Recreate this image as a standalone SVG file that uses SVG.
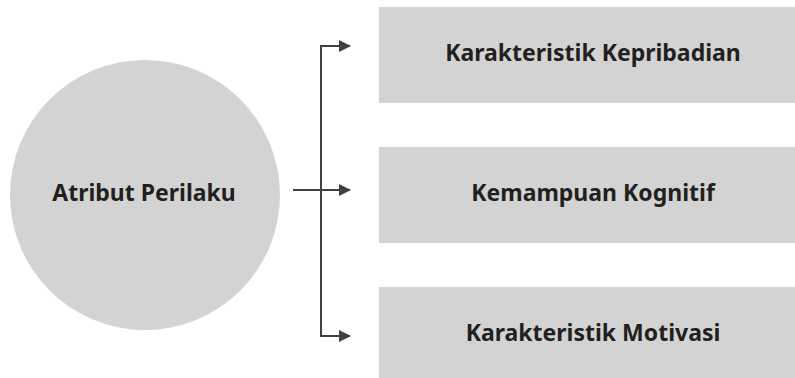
<svg xmlns="http://www.w3.org/2000/svg" width="795" height="378" viewBox="0 0 795 378">
  <style>
    .shape { fill: #d3d3d3; }
    .label { font-family: "Noto Sans", "Open Sans", sans-serif; font-weight: 700; font-size: 23px; fill: #231f20; text-anchor: middle; }
    .conn { stroke: #404040; stroke-width: 2; fill: none; }
  </style>
  <defs>
    <marker id="arrow" markerUnits="userSpaceOnUse" markerWidth="12" markerHeight="12" viewBox="0 0 12 12" refX="11" refY="6" orient="auto">
      <path d="M0,0 L12,6 L0,12 Z" fill="#404040"/>
    </marker>
  </defs>
  <rect width="795" height="378" fill="#ffffff"/>
  <g id="node-atribut">
    <circle class="shape" cx="145" cy="195" r="135"/>
    <text class="label" x="144" y="201">Atribut Perilaku</text>
  </g>
  <g id="node-kepribadian">
    <rect class="shape" x="379" y="7" width="416" height="96"/>
    <text class="label" x="593" y="61">Karakteristik Kepribadian</text>
  </g>
  <g id="node-kognitif">
    <rect class="shape" x="379" y="147" width="416" height="96"/>
    <text class="label" x="593" y="201">Kemampuan Kognitif</text>
  </g>
  <g id="node-motivasi">
    <rect class="shape" x="379" y="287" width="416" height="96"/>
    <text class="label" x="593" y="341">Karakteristik Motivasi</text>
  </g>
  <g id="connectors">
    <path class="conn" d="M321,336 L321,46 L350,46" marker-end="url(#arrow)"/>
    <path class="conn" d="M293,190 L350,190" marker-end="url(#arrow)"/>
    <path class="conn" d="M321,190 L321,336 L350,336" marker-end="url(#arrow)"/>
  </g>
</svg>
